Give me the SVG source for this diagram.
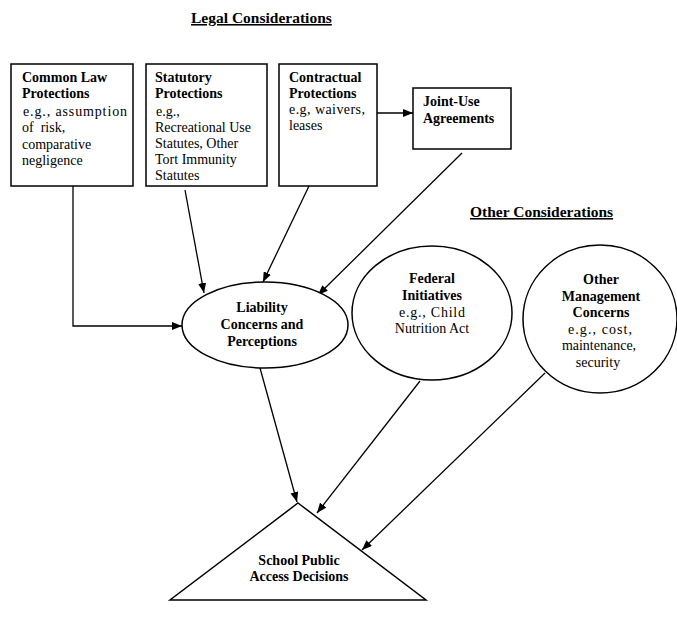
<svg xmlns="http://www.w3.org/2000/svg" width="677" height="617" viewBox="0 0 677 617">
<style>
text{font-family:"Liberation Serif","Times New Roman",serif;font-size:14px;fill:#000}
.b{font-weight:bold}
.h{font-weight:bold;text-decoration:underline;font-size:15.5px}
.m{text-anchor:middle}
.box{fill:#fff;stroke:#000;stroke-width:1.5}
.ln{fill:none;stroke:#000;stroke-width:1.3;marker-end:url(#ah)}
</style>
<defs>
<marker id="ah" viewBox="0 0 10 8" refX="10" refY="4" markerWidth="10" markerHeight="8" markerUnits="userSpaceOnUse" orient="auto">
<path d="M0,0 L10,4 L0,8 z" fill="#000"/>
</marker>
</defs>
<rect width="677" height="617" fill="#fff"/>
<text class="h" x="191" y="23">Legal Considerations</text>
<text class="h" x="470" y="217">Other Considerations</text>
<g id="connectors">
<polyline class="ln" points="73,186 73,326 182,326"/>
<line class="ln" x1="185" y1="190" x2="204" y2="293"/>
<line class="ln" x1="309" y1="186" x2="263" y2="282"/>
<line class="ln" x1="377" y1="113" x2="413" y2="113"/>
<line class="ln" x1="462" y1="153" x2="318" y2="295"/>
<line class="ln" x1="260" y1="368" x2="297" y2="502"/>
<line class="ln" x1="420" y1="381" x2="317" y2="513"/>
<line class="ln" x1="545" y1="373" x2="362" y2="550"/>
</g>
<g id="common-law">
<rect class="box" x="11" y="64" width="122" height="122"/>
<text class="b" x="22" y="82">Common Law</text>
<text class="b" x="22" y="98">Protections</text>
<text x="23" y="116" textLength="104" lengthAdjust="spacing">e.g., assumption</text>
<text x="22" y="132" xml:space="preserve">of  risk,</text>
<text x="22" y="149">comparative</text>
<text x="22" y="165">negligence</text>
</g>
<g id="statutory">
<rect class="box" x="146" y="64" width="121" height="122"/>
<text class="b" x="155" y="82">Statutory</text>
<text class="b" x="155" y="98">Protections</text>
<text x="156" y="116">e.g.,</text>
<text x="155" y="132">Recreational Use</text>
<text x="155" y="148">Statutes, Other</text>
<text x="155" y="164">Tort Immunity</text>
<text x="155" y="180">Statutes</text>
</g>
<g id="contractual">
<rect class="box" x="279" y="64" width="98" height="122"/>
<text class="b" x="289" y="82">Contractual</text>
<text class="b" x="289" y="98">Protections</text>
<text x="289" y="114" textLength="76" lengthAdjust="spacing">e.g, waivers,</text>
<text x="289" y="130">leases</text>
</g>
<g id="joint-use">
<rect class="box" x="413" y="88" width="98" height="61"/>
<text class="b" x="423" y="106">Joint-Use</text>
<text class="b" x="423" y="123">Agreements</text>
</g>
<g id="liability">
<ellipse class="box" cx="265" cy="325" rx="83" ry="43"/>
<text class="b m" x="262" y="312">Liability</text>
<text class="b m" x="262" y="329">Concerns and</text>
<text class="b m" x="262" y="346">Perceptions</text>
</g>
<g id="federal">
<ellipse class="box" cx="432" cy="313" rx="80" ry="67"/>
<text class="b m" x="432" y="283">Federal</text>
<text class="b m" x="432" y="300">Initiatives</text>
<text class="m" x="432" y="317" textLength="66" lengthAdjust="spacing">e.g., Child</text>
<text class="m" x="432" y="333">Nutrition Act</text>
</g>
<g id="other-management">
<ellipse class="box" cx="600" cy="319" rx="77" ry="74"/>
<text class="b m" x="601" y="284">Other</text>
<text class="b m" x="601" y="301">Management</text>
<text class="b m" x="601" y="317">Concerns</text>
<text class="m" x="600" y="334" textLength="64" lengthAdjust="spacing">e.g., cost,</text>
<text class="m" x="599" y="350">maintenance,</text>
<text class="m" x="598" y="367">security</text>
</g>
<g id="school-decisions">
<polygon class="box" points="298,503 426,600 170,600"/>
<text class="b m" x="299" y="565">School Public</text>
<text class="b m" x="299" y="581">Access Decisions</text>
</g>
</svg>
